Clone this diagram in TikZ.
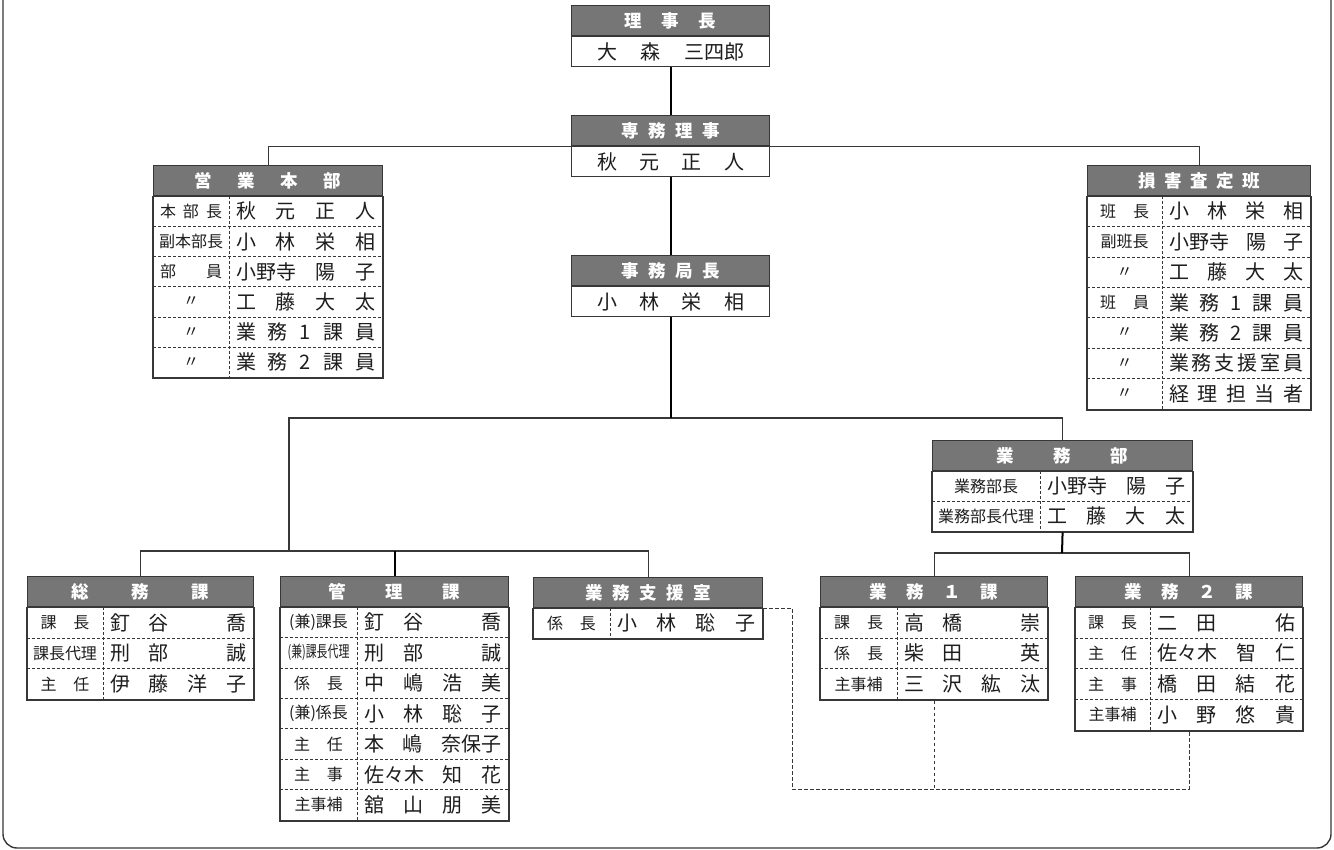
\documentclass[tikz,border=0pt]{standalone}
\usepackage{fontspec}
\setmainfont{Noto Sans CJK JP}
\usepackage{graphicx}
\usetikzlibrary{calc}

\definecolor{hdrgray}{RGB}{118,118,118}
\definecolor{linegray}{RGB}{55,55,55}
\definecolor{txt}{RGB}{30,30,30}

\newlength\nmw
\def\spc#1#2{\def\spcgap{#1}\spcloop#2\relax}
\def\spcloop#1{\ifx#1\relax\else#1\expandafter\spcnext\fi}
\def\spcnext#1{\ifx#1\relax\else\hspace{\spcgap}#1\expandafter\spcnext\fi}
\newcommand\rl[1]{\makebox[49pt][s]{#1}}
\newcommand\gp{\hbox to 20pt{}}

\tikzset{
  hdr/.style={draw=linegray, line width=1.2pt, fill=hdrgray, text=white,
    font=\fontsize{17.5}{17.5}\selectfont\bfseries, inner sep=0pt,
    minimum height=30pt, anchor=north west},
  bodybox/.style={draw=linegray, line width=1.2pt, fill=white, inner sep=0pt, anchor=north west},
  rowsep/.style={draw=linegray, line width=0.8pt, dash pattern=on 3pt off 2pt},
  roletext/.style={font=\fontsize{16}{16}\selectfont, text=txt, inner sep=0pt},
  nametext/.style={font=\fontsize{20}{20}\selectfont, text=txt, inner sep=0pt},
  conn/.style={draw=linegray, line width=1.1pt},
  trunk/.style={draw=black, line width=2pt},
  dconn/.style={draw=linegray, line width=1pt, dash pattern=on 3.5pt off 2.5pt},
}

% id, x, y, width, divider offset, row height, nrows, header, rows
\newcommand\obox[9]{%
  \node[hdr, minimum width=#4pt] (#1-h) at (#2,#3) {#8};
  \node[bodybox, minimum width=#4pt, minimum height={#7*#6pt}] (#1-b) at (#1-h.south west) {};
  \setlength\nmw{\dimexpr #4pt-#5pt-14pt\relax}
  \foreach \ro/\na [count=\i] in {#9} {
    \node[roletext] (#1-r\i) at ($(#1-b.north west)+({#5/2},{(\i-0.5)*#6})$) {\ro};
    \node[nametext] (#1-n\i) at ($(#1-b.north west)+({#5+(#4-#5)/2},{(\i-0.5)*#6})$) {\makebox[\nmw][s]{\na}};
    \ifnum\i>1
      \draw[rowsep] ($(#1-b.north west)+(0,{(\i-1)*#6})$) -- ++(#4,0);
    \fi
  }
  \draw[rowsep] ($(#1-b.north west)+(#5,0)$) -- ($(#1-b.south west)+(#5,0)$);
  \draw[linegray, line width=1.2pt] (#1-b.north west) rectangle (#1-b.south east);
}

% id, x, y, header, name
\newcommand\tbox[5]{%
  \node[hdr, minimum width=198pt] (#1-h) at (#2,#3) {#4};
  \node[bodybox, minimum width=198pt, minimum height=30pt] (#1-b) at (#1-h.south west) {};
  \node[nametext] (#1-n) at (#1-b.center) {\makebox[147pt][s]{#5}};
}

\begin{document}
\begin{tikzpicture}[x=1pt, y=-1pt]
\useasboundingbox (0,0) rectangle (1334,850);
\draw[line width=1.4pt, draw=linegray, rounded corners=14pt] (3,0) -- (3,848) -- (1331,848) -- (1331,0);

\tbox{riji}{571}{5}{\spc{19.5pt}{理事長}}{大 森 三四郎}
\tbox{senmu}{571}{115}{\spc{9.5pt}{専務理事}}{秋 元 正 人}
\tbox{jimu}{571}{255}{\spc{9.5pt}{事務局長}}{小 林 栄 相}

\obox{eigyo}{153}{165}{229}{76}{30.2}{6}{\spc{25.5pt}{営業本部}}{
 {\makebox[62pt][s]{本 部 長}}/{秋 元 正 人},
 {副本部長}/{小 林 栄 相},
 {\makebox[62pt][s]{部 員}}/{小野寺 陽 子},
 {〃}/{工 藤 大 太},
 {〃}/{業 務 1 課 員},
 {〃}/{業 務 2 課 員}}

\obox{songai}{1087}{165}{223}{75}{30.4}{7}{\spc{8.5pt}{損害査定班}}{
 {\rl{班 長}}/{小 林 栄 相},
 {副班長}/{小野寺 陽 子},
 {〃}/{工 藤 大 太},
 {\rl{班 員}}/{業 務 1 課 員},
 {〃}/{業 務 2 課 員},
 {〃}/{業 務 支 援 室 員},
 {〃}/{経 理 担 当 者}}

\obox{gyomubu}{932}{440}{260}{108}{30}{2}{\spc{39.5pt}{業務部}}{
 {業務部長}/{小野寺 陽 子},
 {業務部長代理}/{工 藤 大 太}}

\obox{somu}{27}{576}{226}{76}{30.7}{3}{\spc{42.5pt}{総務課}}{
 {\rl{課 長}}/{釘 谷 \gp{} 喬},
 {課長代理}/{刑 部 \gp{} 誠},
 {\rl{主 任}}/{伊 藤 洋 子}}

\obox{kanri}{280}{576}{228}{77}{30.4}{7}{\spc{39.5pt}{管理課}}{
 {(兼)課長}/{釘 谷 \gp{} 喬},
 {\scalebox{0.68}[1]{(兼)課長代理}}/{刑 部 \gp{} 誠},
 {\rl{係 長}}/{中 嶋 浩 美},
 {(兼)係長}/{小 林 聡 子},
 {\rl{主 任}}/{本 嶋 奈保子},
 {\rl{主 事}}/{佐々木 知 花},
 {主事補}/{舘 山 朋 美}}

\obox{shien}{533}{577}{229}{77}{30}{1}{\spc{9.5pt}{業務支援室}}{
 {\rl{係 長}}/{小 林 聡 子}}

\obox{gA}{820}{576}{227}{77}{30.7}{3}{\spc{19.5pt}{業務１課}}{
 {\rl{課 長}}/{高 橋 \gp{} 崇},
 {\rl{係 長}}/{柴 田 \gp{} 英},
 {主事補}/{三 沢 紘 汰}}

\obox{gB}{1075}{576}{227}{75}{30.7}{4}{\spc{19.5pt}{業務２課}}{
 {\rl{課 長}}/{二 田 \gp{} 佑},
 {\rl{主 任}}/{佐々木 智 仁},
 {\rl{主 事}}/{橋 田 結 花},
 {主事補}/{小 野 悠 貴}}

% connectors
\coordinate (jL) at (289,418);
\coordinate (jB) at (289,551);
\coordinate (jG) at (1062,553);
\coordinate (dA) at (792,789);

\draw[conn] (eigyo-h.north) |- (senmu-h.south west);
\draw[conn] (songai-h.north) |- (senmu-h.south east);
\draw[conn] (gyomubu-h.north) |- (jL) -- (jB);
\draw[conn] (somu-h.north) |- (jB);
\draw[conn] (shien-h.north) |- (jB);
\draw[conn] (gA-h.north) |- (jG);
\draw[conn] (gB-h.north) |- (jG);
\draw[trunk] (riji-b.south) -- (senmu-h.north);
\draw[trunk] (senmu-b.south) -- (jimu-h.north);
\draw[trunk] (jimu-b.south) -- (jimu-b.south |- jL);
\draw[trunk] (kanri-h.north) -- (kanri-h.north |- jB);
\draw[trunk] (gyomubu-b.south) -- (jG);

\draw[dconn] (shien-h.south east) -| (dA) -| (gB-b.south);
\draw[dconn] (gA-b.south) -- (gA-b.south |- dA);
\end{tikzpicture}
\end{document}
